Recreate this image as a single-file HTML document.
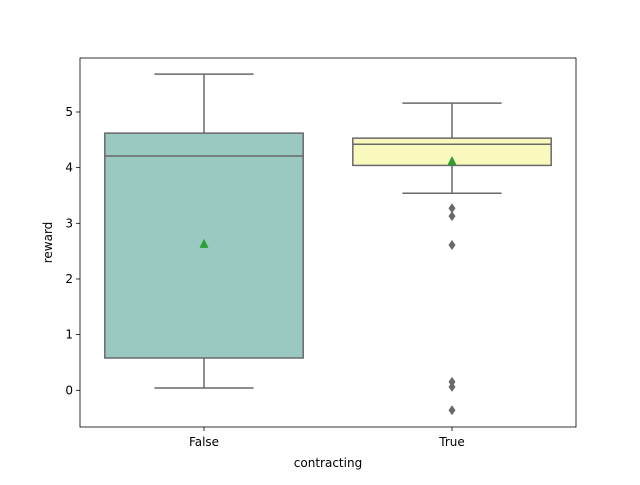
<!DOCTYPE html>
<html><head><meta charset="utf-8"><style>
body{margin:0;background:#fff;}
svg text{font-family:"DejaVu Sans","Liberation Sans",sans-serif;font-size:12px;fill:#000;}
</style></head><body>
<svg id="chart" width="640" height="480" xmlns="http://www.w3.org/2000/svg"></svg>
<script>
const categories = ["False", "True"];
const whiskerLow = [0.04, 3.54];
const q1Values = [0.58, 4.04];
const medianValues = [4.21, 4.42];
const q3Values = [4.62, 4.53];
const whiskerHigh = [5.68, 5.16];
const meanValues = [2.63, 4.12];
const outliersFalse = [];
const outliersTrue = [3.27, 3.13, 2.61, 0.15, 0.06, -0.36];
const yTicks = [0, 1, 2, 3, 4, 5];
const colors = ["#99c9c1", "#f9f8bd"];

const svg = document.getElementById('chart');
const NS = "http://www.w3.org/2000/svg";
const L = 80, R = 576, T = 58, B = 427;
const yMin = -0.66, yMax = 5.97;
function y(v){ return B - (v - yMin) / (yMax - yMin) * (B - T); }
const band = (R - L) / categories.length;
function xc(i){ return L + band * (i + 0.5); }
function mk(tag, attrs, name){
  const e = document.createElementNS(NS, tag);
  for (const k in attrs) e.setAttribute(k, attrs[k]);
  
  
  svg.appendChild(e);
  return e;
}
const gray = "#696969";
const outliers = [outliersFalse, outliersTrue];
categories.forEach((c, i) => {
  const cx = xc(i), hw = band * 0.4;
  mk('line', {x1:cx, x2:cx, y1:y(whiskerLow[i]), y2:y(q1Values[i]), stroke:gray, 'stroke-width':1.5}, 'whisker-low-' + c);
  mk('line', {x1:cx, x2:cx, y1:y(q3Values[i]), y2:y(whiskerHigh[i]), stroke:gray, 'stroke-width':1.5}, 'whisker-high-' + c);
  mk('line', {x1:cx - hw/2, x2:cx + hw/2, y1:y(whiskerLow[i]), y2:y(whiskerLow[i]), stroke:gray, 'stroke-width':1.5}, 'cap-low-' + c);
  mk('line', {x1:cx - hw/2, x2:cx + hw/2, y1:y(whiskerHigh[i]), y2:y(whiskerHigh[i]), stroke:gray, 'stroke-width':1.5}, 'cap-high-' + c);
  mk('rect', {x:cx - hw, y:y(q3Values[i]), width:2*hw, height:y(q1Values[i]) - y(q3Values[i]), fill:colors[i], stroke:gray, 'stroke-width':1.5}, 'box-' + c);
  mk('line', {x1:cx - hw, x2:cx + hw, y1:y(medianValues[i]), y2:y(medianValues[i]), stroke:gray, 'stroke-width':1.5}, 'median-' + c);
  const my = y(meanValues[i]);
  mk('polygon', {points:`${cx},${my-5} ${cx-4.5},${my+4} ${cx+4.5},${my+4}`, fill:'#2ca02c'}, 'mean-' + c);
  outliers[i].forEach(v => {
    const oy = y(v);
    mk('polygon', {points:`${cx},${oy-5} ${cx+3.5},${oy} ${cx},${oy+5} ${cx-3.5},${oy}`, fill:gray}, 'outlier-' + c);
  });
  mk('line', {x1:cx, x2:cx, y1:B, y2:B + 4, stroke:'#000', 'stroke-width':0.8}, 'x-tick-' + c);
  const t = mk('text', {x:cx, y:B + 19, 'text-anchor':'middle'}, 'x-tick-label-' + c);
  t.textContent = c;
});
yTicks.forEach(v => {
  mk('line', {x1:L - 4, x2:L, y1:y(v), y2:y(v), stroke:'#000', 'stroke-width':0.8}, 'y-tick-' + v);
  const t = mk('text', {x:L - 7, y:y(v) + 4, 'text-anchor':'end'}, 'y-tick-label-' + v);
  t.textContent = v;
});
mk('rect', {x:L, y:T, width:R - L, height:B - T, fill:'none', stroke:'#000', 'stroke-width':0.8}, 'plot-frame');
const xt = mk('text', {x:(L + R)/2, y:467, 'text-anchor':'middle'}, 'x-axis-title');
xt.textContent = 'contracting';
const yt = mk('text', {x:52, y:(T + B)/2, 'text-anchor':'middle', transform:`rotate(-90 52 ${(T + B)/2})`}, 'y-axis-title');
yt.textContent = 'reward';
</script>
</body></html>
